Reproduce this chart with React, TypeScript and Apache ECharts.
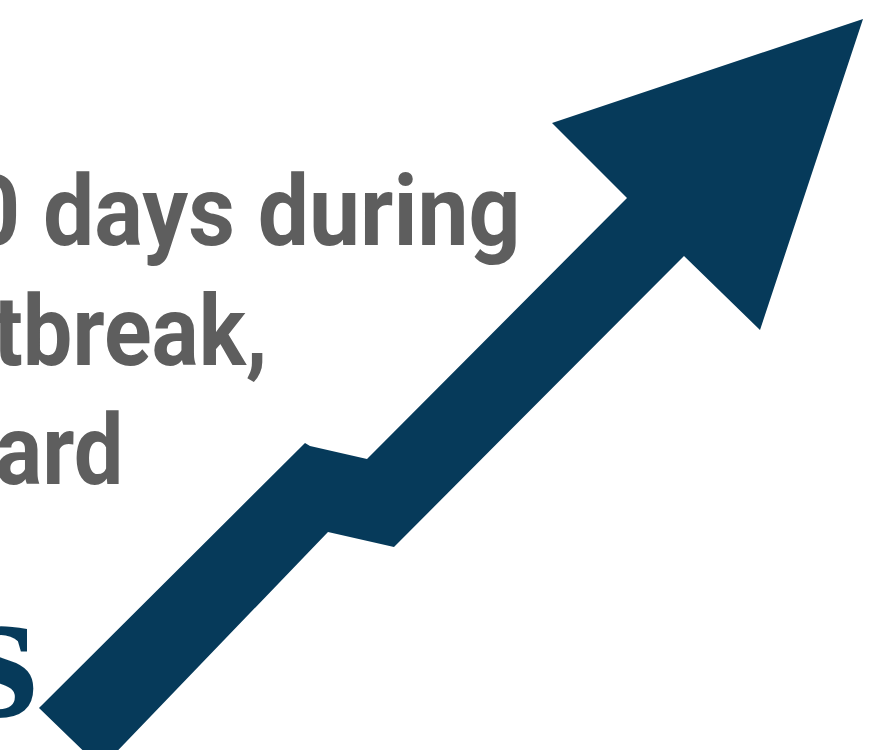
import React, { useEffect, useRef } from "react";
import * as echarts from "echarts";

const W = 871;
const H = 750;

// Arrow outline vertices (in pixel-like axis units, origin top-left)
const arrowX = [863, 760, 684, 394, 328, 101, 39, 305, 310, 367, 627, 552];
const arrowY = [19, 330, 256, 547, 532, 768, 708, 443, 446, 459, 198, 123];

const headlineLines = ["0 days during", "tbreak,", "ard"];
const headlineX = [-32, -7, -5];
const headlineScale = [0.93, 0.9, 0.9];
const headlineBaseline = [245, 366, 485];
const tailText = "s";

const ARROW_COLOR = "#063a5a";
const TEXT_COLOR = "#5e5e5e";

export default function App() {
  const ref = useRef<HTMLDivElement>(null);

  useEffect(() => {
    document.body.style.margin = "0";
    if (!ref.current) return;
    const chart = echarts.init(ref.current, undefined, { renderer: "svg" });

    const arrowData = arrowX.map((x, i) => [x, arrowY[i]]);

    const textEls: any[] = headlineLines.map((t, i) => ({
      type: "text",
      z: 1,
      x: headlineX[i],
      y: headlineBaseline[i] - 34,
      scaleX: headlineScale[i],
      style: {
        text: t,
        x: 0,
        y: 0,
        font: "bold 98px Roboto",
        fill: TEXT_COLOR,
        verticalAlign: "middle",
        align: "left",
      },
    }));
    textEls.push({
      type: "text",
      z: 1,
      style: {
        text: tailText,
        x: -36,
        y: 712 - 60,
        font: 'bold 190px "Liberation Serif"',
        fill: ARROW_COLOR,
        verticalAlign: "middle",
        align: "left",
      },
    });

    chart.setOption({
      animation: false,
      backgroundColor: "#ffffff",
      grid: { left: 0, right: 0, top: 0, bottom: 0 },
      xAxis: { type: "value", min: 0, max: W, show: false },
      yAxis: { type: "value", min: 0, max: H, inverse: true, show: false },
      graphic: textEls,
      series: [
        {
          type: "custom",
          z: 5,
          silent: true,
          clip: false,
          data: [0],
          renderItem: (_params: any, api: any) => {
            const pts = arrowData.map((p) => api.coord(p));
            return {
              type: "polygon",
              shape: { points: pts },
              style: { fill: ARROW_COLOR },
            };
          },
        },
      ],
    });

    return () => chart.dispose();
  }, []);

  return (
    <div
      ref={ref}
      style={{ position: "absolute", left: 0, top: 0, width: W, height: H }}
    />
  );
}
